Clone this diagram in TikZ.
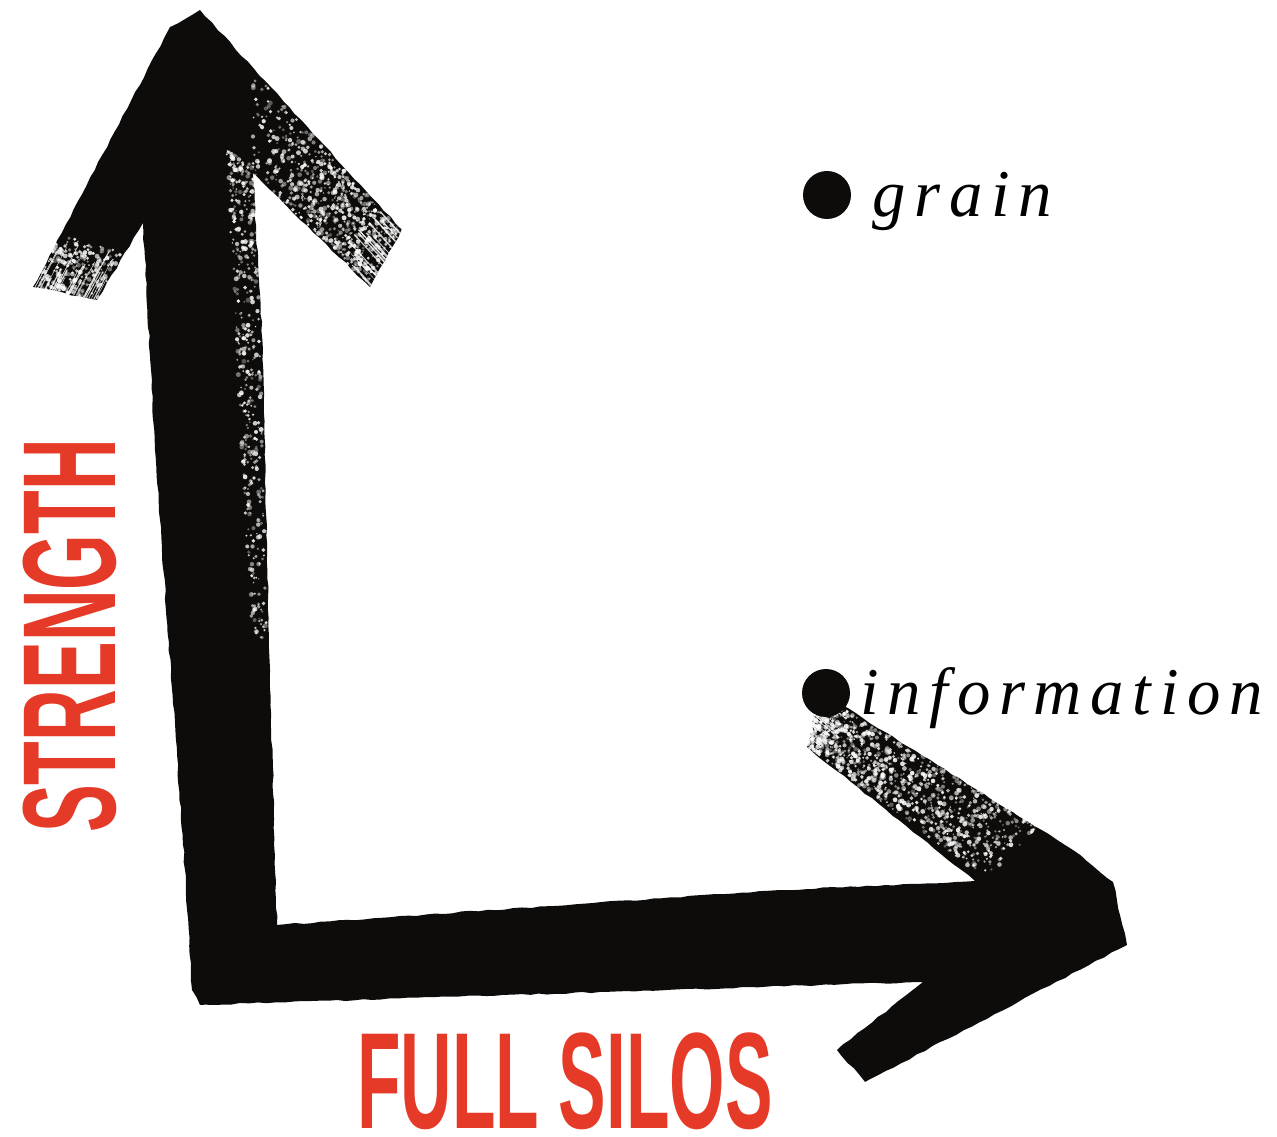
\documentclass[tikz,border=0pt]{standalone}
\usepackage{fontspec}
\setmainfont{Liberation Serif}
\newfontfamily\itemfont[LetterSpace=13]{Liberation Serif}
\newfontfamily\axisfont{Liberation Sans}
\usetikzlibrary{calc,decorations.pathmorphing}
\definecolor{axisred}{HTML}{E63A28}
\definecolor{ink}{HTML}{0E0C0A}

% かすれ：四角形 #1-#4 の中に白い点を #5 個（#6 は濃淡のかたより）
\newcommand{\inkspeckle}[6]{%
  \foreach \k in {1,...,#5}{%
    \pgfmathsetmacro{\su}{rnd^#6}%
    \pgfmathsetmacro{\sv}{rnd}%
    \pgfmathsetmacro{\sr}{0.8+1.7*rnd}%
    \pgfmathsetmacro{\so}{0.3+0.6*rnd}%
    \fill[white, opacity=\so] ($($#1!\su!#2$)!\sv!($#4!\su!#3$)$) circle (\sr);
  }}
% 筆先の毛：#1--#2 の端から #3 の向きに #4 本
\newcommand{\inkbristle}[5]{%
  \foreach \k in {1,...,#4}{%
    \pgfmathsetmacro{\su}{rnd}%
    \pgfmathsetmacro{\sl}{8+#5*rnd}%
    \pgfmathsetmacro{\sw}{0.4+0.9*rnd}%
    \draw[white, line width=\sw*0.1mm, opacity=0.8] ($#1!\su!#2$) -- ++($\sl*#3$);
  }}

\begin{document}
\begin{tikzpicture}[x=0.1mm, y=-0.1mm,
  brush/.style={fill=ink, decorate, decoration={random steps, segment length=2.5pt, amplitude=0.22pt}},
  itemdot/.style={circle, fill=ink, minimum size=4.8mm, inner sep=0pt},
  itemlabel/.style={anchor=base west, inner sep=0pt, font=\itemfont\itshape\fontsize{19pt}{19pt}\selectfont},
  axislabel/.style={anchor=base, inner sep=0pt, text=axisred, font=\axisfont\bfseries\fontsize{#1}{#1}\selectfont}]
  \useasboundingbox (0,0) rectangle (1277,1137);
  \pgfmathsetseed{2718}
  % 筆の軸（上向きと右向きの矢印）
  \fill[brush] (200,10) -- (402,230) -- (370,287) -- (253,173) -- (263,350) -- (268,600)
    -- (277,925) -- (780,890) -- (975,881) -- (807,747) -- (818,690) -- (1073,850)
    -- (1113,882) -- (1127,945) -- (865,1082) -- (837,1050) -- (923,982) -- (820,985)
    -- (200,1005) -- (192,990) -- (185,870) -- (155,450) -- (143,223) -- (97,300)
    -- (33,287) -- (170,27) -- cycle;
  % かすれた部分
  \inkspeckle{(250,68)}{(400,230)}{(370,285)}{(250,170)}{750}{0.6}
  \inkspeckle{(226,150)}{(252,640)}{(267,640)}{(256,168)}{450}{1.6}
  \inkspeckle{(61,234)}{(33,287)}{(97,300)}{(125,247)}{260}{0.7}
  \inkspeckle{(818,692)}{(1040,827)}{(985,878)}{(807,747)}{1150}{1.5}
  \inkbristle{(33,287)}{(97,300)}{(0.469,-0.883)}{25}{45}
  \inkbristle{(402,230)}{(370,287)}{(-0.676,-0.737)}{22}{35}
  \inkbristle{(818,692)}{(807,747)}{(0.78,0.62)}{18}{30}
  % 点とラベル
  \node[itemdot] (graindot) at (827,195) {};
  \node[itemlabel] (grain) at (872,217) {grain};
  \node[itemdot] (infodot) at (826,693) {};
  \node[itemlabel] (info) at (860,715) {information};
  % 軸の名前
  \node[axislabel=39pt] (silos) at (565,1129) {\scalebox{0.52}[1]{FULL SILOS}};
  \node[axislabel=37.7pt, rotate=90] (strength) at (115,636) {\scalebox{0.54}[1]{STRENGTH}};
\end{tikzpicture}
\end{document}
